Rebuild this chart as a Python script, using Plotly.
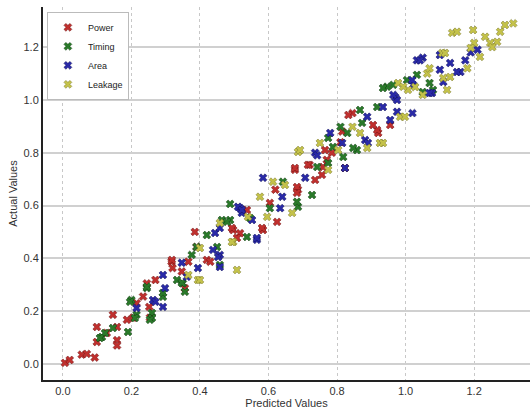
import plotly.graph_objects as go

power_x = [0.006, 0.02, 0.055, 0.07, 0.093, 0.099, 0.099, 0.128, 0.146, 0.158, 0.158, 0.158, 0.187, 0.205,
           0.215, 0.234, 0.245, 0.254, 0.27, 0.252, 0.317, 0.32, 0.347, 0.366, 0.385, 0.356, 0.39, 0.42,
           0.43, 0.497, 0.517, 0.584, 0.845, 0.833, 0.92, 0.917, 0.81, 0.785, 0.77, 0.72, 0.677, 0.686,
           0.683, 0.604, 0.759, 0.625, 0.815, 0.765, 0.756, 0.823, 0.905, 0.955, 0.677, 0.683, 0.581,
           0.537, 0.62, 0.715, 0.736, 0.318, 0.493, 0.508]
power_y = [0.004, 0.015, 0.035, 0.038, 0.024, 0.083, 0.14, 0.117, 0.186, 0.14, 0.09, 0.07, 0.167, 0.175,
           0.23, 0.255, 0.305, 0.175, 0.318, 0.216, 0.387, 0.363, 0.35, 0.387, 0.5, 0.287, 0.443, 0.394,
           0.387, 0.507, 0.495, 0.507, 0.95, 0.943, 0.875, 0.886, 0.84, 0.8, 0.773, 0.754, 0.735, 0.66,
           0.67, 0.61, 0.746, 0.538, 0.88, 0.81, 0.716, 0.742, 0.905, 0.905, 0.742, 0.648, 0.515,
           0.583, 0.66, 0.754, 0.697, 0.394, 0.515, 0.477]

timing_x = [0.488, 0.2, 0.215, 0.19, 0.146, 0.114, 0.245, 0.26, 0.26, 0.292, 0.333, 0.35, 0.376, 0.39,
            0.42, 0.458, 0.45, 0.537, 0.488, 0.546, 0.196, 0.123, 0.108, 0.254, 0.21, 0.946, 0.934,
            0.686, 0.683, 0.727, 0.788, 0.867, 0.81, 0.917, 1.07, 1.08, 1.004, 0.818, 0.858, 0.83,
            0.774, 0.873, 0.774, 0.742, 0.847, 0.964, 1.05, 1.033, 0.642, 0.604, 0.464, 0.479, 0.347,
            0.356, 0.245, 0.292]
timing_y = [0.606, 0.242, 0.186, 0.121, 0.136, 0.102, 0.287, 0.193, 0.174, 0.254, 0.318, 0.305, 0.413, 0.443,
            0.488, 0.375, 0.443, 0.481, 0.545, 0.553, 0.235, 0.117, 0.098, 0.167, 0.174, 1.05, 1.045,
            0.595, 0.614, 0.64, 0.822, 0.962, 0.898, 0.973, 1.064, 1.038, 1.075, 0.784, 0.81, 0.875,
            0.761, 0.913, 0.856, 0.746, 0.818, 1.057, 1.03, 1.095, 0.69, 0.59, 0.545, 0.538, 0.307,
            0.273, 0.292, 0.269]

area_x = [0.292, 0.292, 0.263, 0.215, 0.298, 0.347, 0.362, 0.394, 0.438, 0.458, 0.444, 0.522, 0.566, 0.517,
          0.584, 0.511, 0.27, 0.453, 0.458, 0.458, 0.522, 0.552, 0.634, 0.566, 0.736, 0.707, 0.64,
          0.742, 0.78, 0.823, 0.888, 0.882, 0.97, 0.975, 1.02, 1.033, 1.05, 1.1, 1.13, 1.16, 1.19,
          1.21, 1.1, 1.077, 1.022, 0.955, 1.042, 1.15, 1.174, 1.11, 1.019, 0.964, 1.07, 0.89, 0.815,
          0.934, 0.975]
area_y = [0.337, 0.216, 0.242, 0.212, 0.287, 0.383, 0.33, 0.363, 0.432, 0.413, 0.496, 0.572, 0.47, 0.59,
          0.705, 0.595, 0.235, 0.405, 0.367, 0.515, 0.583, 0.545, 0.59, 0.477, 0.8, 0.705, 0.633,
          0.79, 0.875, 0.742, 0.936, 0.848, 1.01, 1.0, 0.95, 1.15, 1.16, 1.17, 1.14, 1.106, 1.18,
          1.19, 1.114, 1.026, 1.057, 0.924, 1.15, 1.106, 1.15, 1.068, 1.075, 1.019, 1.026, 0.837, 0.837,
          0.973, 0.955]

leakage_x = [0.4, 0.394, 0.366, 0.497, 0.54, 0.4, 0.508, 0.458, 0.493, 0.686, 0.613, 0.669, 0.596, 0.648,
             0.575, 0.845, 0.888, 0.984, 0.978, 1.063, 1.07, 1.107, 1.121, 1.136, 1.15, 1.197, 1.2,
             1.232, 1.247, 1.267, 1.276, 1.29, 1.314, 1.217, 1.18, 1.11, 1.007, 0.998, 0.925, 0.867,
             0.75, 1.253, 1.19, 1.115, 1.13, 1.028, 1.05, 0.803, 0.774, 0.692, 0.934, 0.993]
leakage_y = [0.439, 0.318, 0.337, 0.462, 0.557, 0.318, 0.356, 0.534, 0.462, 0.803, 0.69, 0.572, 0.557, 0.678,
             0.633, 0.898, 0.818, 0.936, 1.064, 1.1, 1.12, 1.178, 1.038, 1.254, 1.258, 1.265, 1.216,
             1.239, 1.216, 1.22, 1.258, 1.284, 1.29, 1.163, 1.12, 1.083, 1.038, 0.936, 0.837, 0.875,
             0.837, 1.2, 1.197, 1.178, 1.087, 1.049, 1.019, 0.81, 0.735, 0.81, 0.837, 1.05]

x_ticks = [0.0, 0.2, 0.4, 0.6, 0.8, 1.0, 1.2]
y_ticks = [0.0, 0.2, 0.4, 0.6, 0.8, 1.0, 1.2]

series = [
    ("Power", power_x, power_y, "#c0302e", "#6a1010"),
    ("Timing", timing_x, timing_y, "#2a7a2a", "#0f3a0f"),
    ("Area", area_x, area_y, "#2a2aa8", "#0c0c55"),
    ("Leakage", leakage_x, leakage_y, "#c4c24a", "#77752a"),
]

fig = go.Figure()
for name, xs, ys, col, edge in series:
    fig.add_trace(go.Scatter(
        x=xs, y=ys, mode="markers", name=name,
        marker=dict(symbol="x", size=7, color=col, line=dict(color=edge, width=0.5)),
    ))

font_family = "Liberation Sans Narrow, Liberation Sans, Arial, sans-serif"

fig.update_layout(
    width=530, height=417,
    margin=dict(l=43, r=0, t=7, b=37),
    paper_bgcolor="white", plot_bgcolor="white",
    font=dict(family=font_family, size=11, color="#333333"),
    showlegend=True,
    legend=dict(
        x=0.008, y=0.987, xanchor="left", yanchor="top",
        bgcolor="white", bordercolor="#bbbbbb", borderwidth=1,
        font=dict(size=9, color="#222222"),
        tracegroupgap=0, itemwidth=30,
    ),
)

fig.update_xaxes(
    range=[-0.058, 1.363], tickvals=x_ticks, ticktext=[f"{v:.1f}" for v in x_ticks],
    showgrid=True, gridcolor="#c8c8c8", griddash="dot", gridwidth=1,
    showline=True, linecolor="#222222", linewidth=2, zeroline=False, automargin=False,
    ticks="", title=dict(text="Predicted Values", font=dict(size=11), standoff=2),
)
fig.update_yaxes(
    range=[-0.061, 1.352], tickvals=y_ticks, ticktext=[f"{v:.1f}" for v in y_ticks],
    showgrid=True, gridcolor="#d0d0d0", gridwidth=2,
    showline=True, linecolor="#222222", linewidth=2, zeroline=False, automargin=False,
    ticks="", title=dict(text="Actual Values", font=dict(size=11), standoff=4),
)

fig.write_html("out.html", config={"displayModeBar": False},
               post_script="document.body.style.margin='0';")
